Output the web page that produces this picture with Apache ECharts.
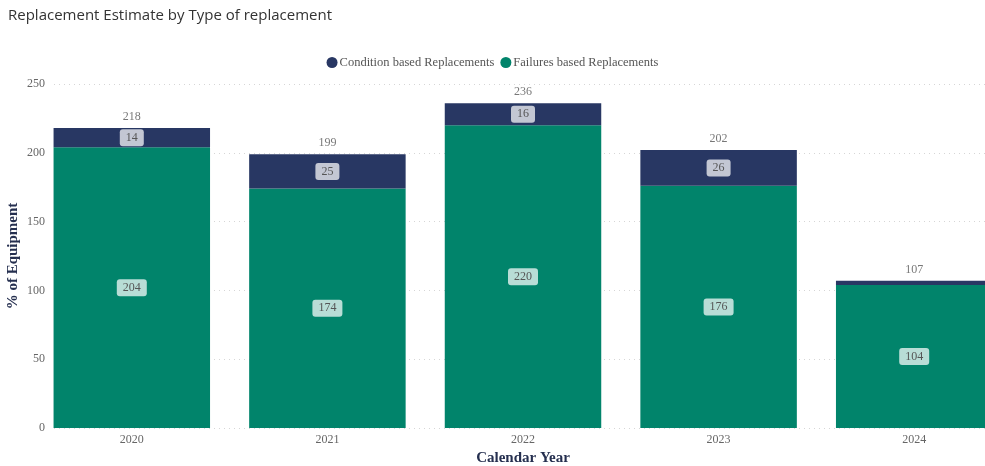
<!DOCTYPE html>
<html>
<head>
<meta charset="utf-8">
<script src="https://cdn.jsdelivr.net/npm/echarts@6/dist/echarts.min.js"></script>
<style>
  html, body { margin: 0; padding: 0; background: #fff; }
  #chart { width: 985px; height: 466px; }
</style>
</head>
<body>
<div id="chart"></div>
<script>
// Calendar years on the category axis
const years = ['2020', '2021', '2022', '2023', '2024'];
// Replacements per year, by type
const conditionBased = [14, 25, 16, 26, 3];
const failuresBased = [204, 174, 220, 176, 104];
// Value axis ticks
const yTicks = [0, 50, 100, 150, 200, 250];

const totals = years.map((_, i) => conditionBased[i] + failuresBased[i]);

const NAVY = '#283763';
const GREEN = '#01846b';
const SERIF = '"Liberation Serif", "DejaVu Serif", serif';

const segLabel = {
  show: true,
  position: 'inside',
  fontFamily: SERIF,
  fontSize: 12,
  color: '#555',
  backgroundColor: 'rgba(255,255,255,0.72)',
  borderRadius: 3,
  padding: [3, 6, 2, 6]
};

const chart = echarts.init(document.getElementById('chart'), null, { renderer: 'canvas' });
chart.setOption({
  animation: false,
  title: {
    text: 'Replacement Estimate by Type of replacement',
    left: 3, top: 3,
    textStyle: { fontFamily: '"Open Sans", "Noto Sans", sans-serif', fontSize: 15, fontWeight: 'normal', color: '#333' }
  },
  legend: {
    top: 51, left: 'center',
    icon: 'circle', itemWidth: 11, itemHeight: 11, itemGap: 6,
    textStyle: { fontFamily: SERIF, fontSize: 12.5, color: '#555', padding: [0, 0, 0, -3] },
    data: ['Condition based Replacements', 'Failures based Replacements']
  },
  grid: [
    { left: 34, width: 978, top: 84, bottom: 38, outerBoundsMode: 'none', containLabel: false },
    { left: 54, right: 0, top: 84, bottom: 38, outerBoundsMode: 'none', containLabel: false }
  ],
  xAxis: [
    {
      type: 'category', data: years, gridIndex: 0,
      axisLine: { show: false }, axisTick: { show: false },
      axisLabel: { fontFamily: SERIF, fontSize: 12, color: '#666', margin: 6 },
      name: 'Calendar Year', nameLocation: 'middle', nameGap: 22,
      nameTextStyle: { fontFamily: SERIF, fontSize: 15, fontWeight: 'bold', color: '#252f4f' }
    },
    { type: 'value', gridIndex: 1, show: false, min: 0, max: 1 }
  ],
  yAxis: [
    {
      type: 'value', gridIndex: 0, min: 0, max: 250, interval: 50,
      axisLabel: { show: false }, splitLine: { show: false },
      axisLine: { show: false }, axisTick: { show: false }
    },
    {
      type: 'value', gridIndex: 1, min: yTicks[0], max: yTicks[yTicks.length - 1], interval: 50,
      axisLine: { show: false }, axisTick: { show: false },
      axisLabel: { fontFamily: SERIF, fontSize: 12, color: '#666', margin: 9 },
      splitLine: { show: true, lineStyle: { type: [1, 4], color: '#d6d6d6', width: 1 } },
      name: '% of Equipment', nameLocation: 'middle', nameGap: 33, nameRotate: 90,
      nameMoveOverlap: false,
      nameTextStyle: { fontFamily: SERIF, fontSize: 15, fontWeight: 'bold', color: '#252f4f' }
    }
  ],
  series: [
    {
      name: 'Failures based Replacements', type: 'bar', stack: 'total',
      xAxisIndex: 0, yAxisIndex: 0, barCategoryGap: '20%',
      itemStyle: { color: GREEN },
      label: segLabel,
      data: failuresBased
    },
    {
      name: 'Condition based Replacements', type: 'bar', stack: 'total',
      xAxisIndex: 0, yAxisIndex: 0,
      itemStyle: { color: NAVY },
      label: segLabel,
      data: conditionBased.map(v => v < 8 ? { value: v, label: { show: false } } : v)
    },
    {
      name: 'Total', type: 'scatter', xAxisIndex: 0, yAxisIndex: 0,
      symbolSize: 0, silent: true,
      label: { show: true, position: 'top', distance: 5, fontFamily: SERIF, fontSize: 12, color: '#555',
               formatter: p => p.value },
      data: totals
    }
  ]
});
</script>
</body>
</html>
